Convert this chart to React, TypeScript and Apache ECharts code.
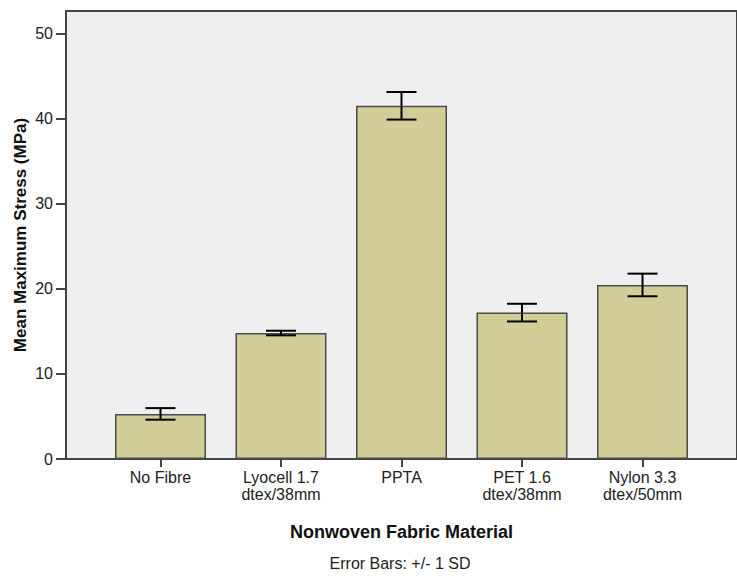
import React, { useEffect, useRef } from "react";
import * as echarts from "echarts";

const categories = ["No Fibre", "Lyocell 1.7\ndtex/38mm", "PPTA", "PET 1.6\ndtex/38mm", "Nylon 3.3\ndtex/50mm"];
const means = [5.3, 14.8, 41.5, 17.2, 20.45];
const sds = [0.68, 0.27, 1.62, 1.04, 1.33];
const yTicks = [0, 10, 20, 30, 40, 50];

const FONT = "'Liberation Sans', Arial, sans-serif";

export default function App() {
  const ref = useRef<HTMLDivElement>(null);
  useEffect(() => {
    document.body.style.margin = "0";
    const chart = echarts.init(ref.current!, null, { renderer: "svg" });
    const idx = categories.map((_, i) => i);
    const barData = means.map((m, i) => [i, m]);
    const errData = means.map((m, i) => [i, m - sds[i], m + sds[i]]);
    chart.setOption({
      animation: false,
      textStyle: { fontFamily: FONT },
      grid: {
        left: 66,
        right: -6,
        top: 11,
        bottom: 129,
        show: true,
        backgroundColor: "#EFEFEF",
        borderColor: "#444",
        borderWidth: 2,
      },
      xAxis: {
        type: "value",
        min: -0.784,
        max: 4.784,
        name: "Nonwoven Fabric Material",
        nameLocation: "middle",
        nameGap: 64,
        nameTextStyle: { fontSize: 18, fontWeight: "bold", color: "#111", fontFamily: FONT },
        axisLine: { show: true, onZero: false, lineStyle: { color: "#444", width: 2 } },
        axisTick: { show: true, length: 8, customValues: idx, lineStyle: { color: "#444", width: 2 } },
        axisLabel: {
          customValues: idx,
          formatter: (v: number) => categories[Math.round(v)] ?? "",
          fontSize: 16,
          lineHeight: 17,
          color: "#222",
          margin: 10,
          fontFamily: FONT,
        },
        splitLine: { show: false },
      },
      yAxis: {
        type: "value",
        min: 0,
        max: 52.64,
        name: "Mean Maximum Stress (MPa)",
        nameLocation: "middle",
        nameGap: 37,
        nameMoveOverlap: false,
        nameTextStyle: { fontSize: 17, fontWeight: "bold", color: "#111", fontFamily: FONT },
        axisLine: { show: true, onZero: false, lineStyle: { color: "#444", width: 2 } },
        axisTick: { show: true, length: 10, customValues: yTicks, lineStyle: { color: "#444", width: 2 } },
        axisLabel: { customValues: yTicks, fontSize: 16, color: "#222", margin: 13, fontFamily: FONT },
        splitLine: { show: false },
      },
      graphic: [
        {
          type: "text",
          x: 400,
          y: 563,
          style: {
            text: "Error Bars: +/- 1 SD",
            fontSize: 16,
            fill: "#222",
            fontFamily: FONT,
            textAlign: "center",
            textVerticalAlign: "middle",
          },
        },
      ],
      series: [
        {
          type: "bar",
          data: barData,
          barWidth: 91,
          itemStyle: { color: "#D3CE97", borderColor: "#4a4a4a", borderWidth: 1.5 },
        },
        {
          type: "custom",
          data: errData,
          z: 10,
          renderItem: (params: any, api: any) => {
            const x = api.value(0);
            const lo = api.coord([x, api.value(1)]);
            const hi = api.coord([x, api.value(2)]);
            const hw = 15;
            const style = { stroke: "#000", lineWidth: 2 };
            return {
              type: "group",
              children: [
                { type: "line", shape: { x1: hi[0], y1: hi[1], x2: lo[0], y2: lo[1] }, style },
                { type: "line", shape: { x1: hi[0] - hw, y1: hi[1], x2: hi[0] + hw, y2: hi[1] }, style },
                { type: "line", shape: { x1: lo[0] - hw, y1: lo[1], x2: lo[0] + hw, y2: lo[1] }, style },
              ],
            };
          },
        },
      ],
    });
    return () => chart.dispose();
  }, []);
  return <div ref={ref} style={{ width: 737, height: 588 }} />;
}
